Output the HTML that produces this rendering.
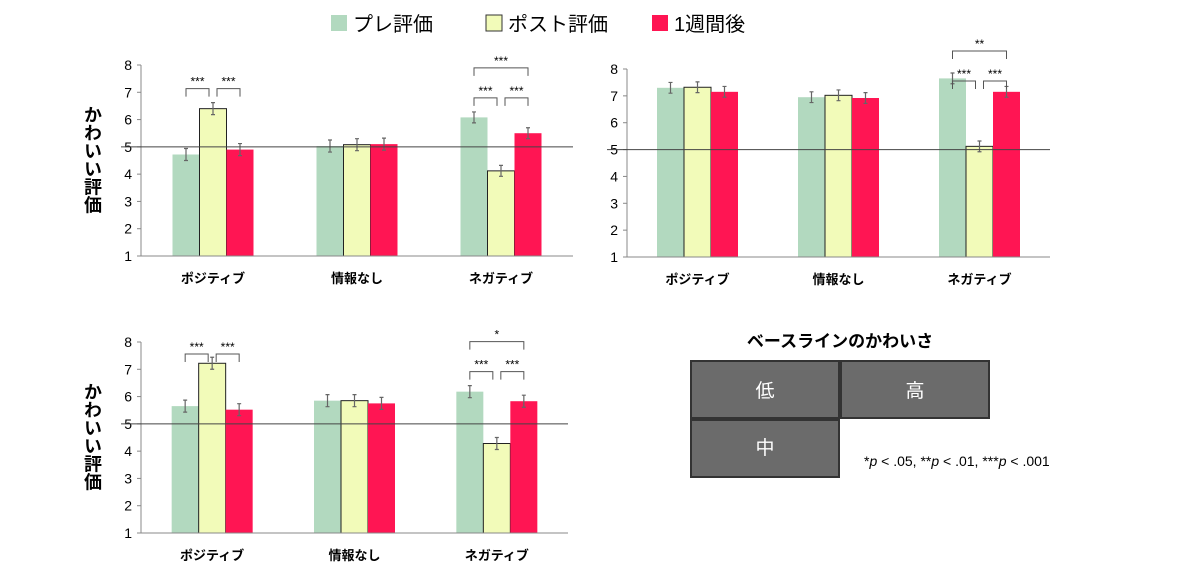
<!DOCTYPE html>
<html><head><meta charset="utf-8">
<style>
body{margin:0;background:#fff;width:1200px;height:581px;overflow:hidden;font-family:"Liberation Sans","Noto Sans CJK JP",sans-serif}
svg text{font-family:"Liberation Sans","Noto Sans CJK JP",sans-serif}
</style></head><body>
<svg id="s" width="1200" height="581">
<g>
<rect x="331" y="15" width="16" height="16" fill="#b2d9bf"/>
<text x="353" y="31" font-size="20">プレ評価</text>
<rect x="486" y="15" width="16" height="16" fill="#f2fbb9" stroke="#333"/>
<text x="508" y="31" font-size="20">ポスト評価</text>
<rect x="652" y="15" width="16" height="16" fill="#ff1553"/>
<text x="674" y="31" font-size="20">1週間後</text>
</g>
<g>
<text x="840" y="347" font-size="17" font-weight="bold" text-anchor="middle">ベースラインのかわいさ</text>
<rect x="691" y="361" width="148" height="57" fill="#6b6b6b" stroke="#333" stroke-width="2"/>
<text x="765" y="397" font-size="19" fill="#fff" text-anchor="middle">低</text>
<rect x="841" y="361" width="148" height="57" fill="#6b6b6b" stroke="#333" stroke-width="2"/>
<text x="915" y="397" font-size="19" fill="#fff" text-anchor="middle">高</text>
<rect x="691" y="420" width="148" height="57" fill="#6b6b6b" stroke="#333" stroke-width="2"/>
<text x="765" y="454" font-size="19" fill="#fff" text-anchor="middle">中</text>
<text x="864" y="466" font-size="14">*<tspan font-style="italic">p</tspan> &lt; .05,  **<tspan font-style="italic">p</tspan> &lt; .01, ***<tspan font-style="italic">p</tspan> &lt; .001</text>
</g>
</svg>
<script>
const categories=["ポジティブ","情報なし","ネガティブ"];
const yTicks=[1,2,3,4,5,6,7,8];
const preLow=[4.72,5.03,6.08], postLow=[6.4,5.08,4.12], weekLow=[4.9,5.1,5.5];
const preHigh=[7.3,6.95,7.65], postHigh=[7.32,7.02,5.12], weekHigh=[7.15,6.92,7.15];
const preMid=[5.65,5.85,6.18], postMid=[7.22,5.85,4.28], weekMid=[5.52,5.75,5.83];
const errLow=[0.22,0.22,0.2], errHigh=[0.2,0.2,0.2], errMid=[0.22,0.22,0.22];
const sigLow=[[0,0,1,"***"],[0,1,2,"***"],[2,0,1,"***"],[2,1,2,"***"],[2,0,2,"***"]];
const sigHigh=[[2,0,1,"***"],[2,1,2,"***"],[2,0,2,"**"]];
const sigMid=[[0,0,1,"***"],[0,1,2,"***"],[2,0,1,"***"],[2,1,2,"***"],[2,0,2,"*"]];
const NS="http://www.w3.org/2000/svg", svg=document.getElementById('s');
function mk(p,t,a){const e=document.createElementNS(NS,t);for(const k in a)e.setAttribute(k,a[k]);p.appendChild(e);return e;}
function chart(name,x0,x1,yTop,yBot,series,errs,sigs,ylabel){
  const g=mk(svg,'g',{});
  
  
  const y=v=>yBot-(v-1)/7*(yBot-yTop);
  const gw=(x1-x0)/categories.length, bw=27;
  mk(g,'line',{x1:x0,y1:yTop,x2:x0,y2:yBot,stroke:'#888'});
  yTicks.forEach(t=>{
    mk(g,'line',{x1:x0-4,y1:y(t),x2:x0,y2:y(t),stroke:'#888'});
    const tx=mk(g,'text',{x:x0-9,y:y(t)+5,'font-size':14,'text-anchor':'end'});tx.textContent=t;
    
    
  });
  const fills=['#b2d9bf','#f2fbb9','#ff1553'];
  categories.forEach((c,i)=>{
    const cx=x0+gw*(i+0.5);
    series.forEach((s,j)=>{
      const bx=cx-1.5*bw+j*bw;
      const r=mk(g,'rect',{x:bx,y:y(s[i]),width:bw,height:yBot-y(s[i]),fill:fills[j]});
      if(j==1){r.setAttribute('stroke','#222');}
      
      
      const ex=bx+bw/2,e=errs[i];
      mk(g,'path',{d:`M${ex},${y(s[i]+e)}V${y(s[i]-e)}M${ex-2},${y(s[i]+e)}h4M${ex-2},${y(s[i]-e)}h4`,stroke:'#666','stroke-width':1.2,fill:'none'});
    });
    const lt=mk(g,'text',{x:cx,y:yBot+27,'font-size':13,'font-weight':'bold','text-anchor':'middle'});lt.textContent=c;
    
    
  });
  mk(g,'line',{x1:x0,y1:yBot,x2:x1,y2:yBot,stroke:'#888'});
  mk(g,'line',{x1:x0-20,y1:y(5),x2:x1,y2:y(5),stroke:'#444','stroke-width':1});
  sigs.forEach(([i,a,b,lab])=>{
    const cx=x0+gw*(i+0.5);
    const ba=cx-1.5*bw+a*bw+bw/2+(b-a==1&&a==1?4:0), bb=cx-1.5*bw+b*bw+bw/2-(b-a==1&&a==0?4:0);
    let top=-1e9;series.forEach((s,j)=>{if(j>=a&&j<=b)top=Math.max(top,s[i]+errs[i]);});
    const maxAll=Math.max(series[0][i],series[1][i],series[2][i])+errs[i];
    const base=Math.max(y(maxAll)-14,yTop+12);
    const yy=b-a==2?base-30:base;
    mk(g,'path',{d:`M${ba},${yy+8}V${yy}H${bb}V${yy+8}`,stroke:'#555',fill:'none'});
    const st=mk(g,'text',{x:(ba+bb)/2,y:yy-3,'font-size':12,'text-anchor':'middle'});st.textContent=lab;
  });
  if(ylabel){
    const t=mk(g,'text',{x:92,y:(yTop+yBot)/2-55,'font-size':18,'font-weight':'bold','writing-mode':'tb','glyph-orientation-vertical':0});
    t.textContent='かわいい評価';
    
    
  }
}
chart('chart-low',141,573,65,256,[preLow,postLow,weekLow],errLow,sigLow,true);
chart('chart-high',627,1050,69,257,[preHigh,postHigh,weekHigh],errHigh,sigHigh,false);
chart('chart-mid',141,568,342,533,[preMid,postMid,weekMid],errMid,sigMid,true);
</script>
</body></html>
